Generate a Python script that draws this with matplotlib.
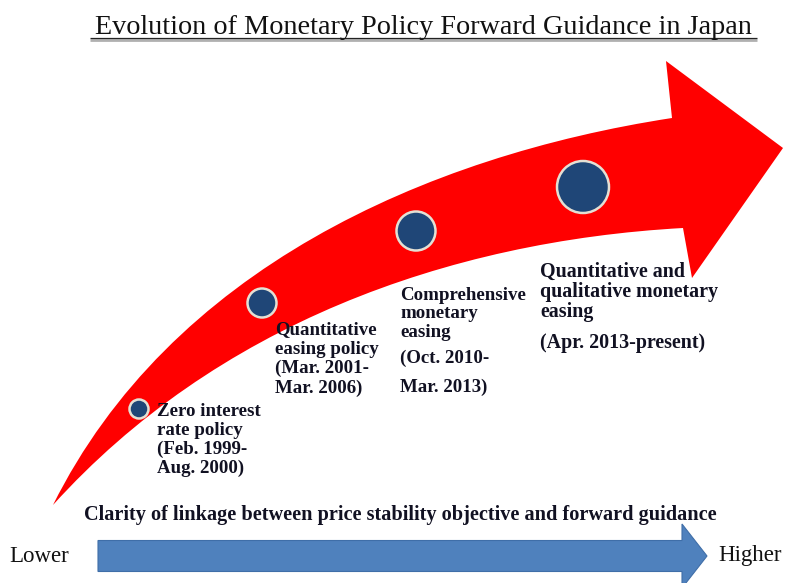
import numpy as np
import matplotlib.pyplot as plt
import matplotlib.patches as mpatches
from matplotlib.path import Path

# ---- content ----
title = "Evolution of Monetary Policy Forward Guidance in Japan"
axis_label = "Clarity of linkage between price stability objective and forward guidance"
low_label, high_label = "Lower", "Higher"

stage_names = [
    ["Zero interest", "rate policy"],
    ["Quantitative", "easing policy"],
    ["Comprehensive", "monetary", "easing"],
    ["Quantitative and", "qualitative monetary", "easing"],
]
stage_periods = [
    ["(Feb. 1999-", "Aug. 2000)"],
    ["(Mar. 2001-", "Mar. 2006)"],
    ["(Oct. 2010-", "Mar. 2013)"],
    ["(Apr. 2013-present)"],
]

# ---- layout (pixel coords, y down) ----
W, H = 790, 583
dot_xy = [(139, 409), (262, 303), (416, 231), (583, 187)]
dot_r = [9.5, 14.5, 19.5, 26]
name_xy = [(157, 403), (275, 321), (400, 287), (540, 262)]
name_pitch = [19, 19.5, 18.5, 20]
period_xy = [(157, 441), (275, 360), (400, 350), (540, 333)]
period_pitch = [19, 19.5, 29, 20]
label_size = [13.6, 13.6, 13.6, 14.4]

# sampled outline of the red arrow
upper_edge = [(53, 505), (63, 483), (130, 390), (197, 327), (250, 272), (317, 233),
              (383, 203), (450, 175), (540, 147), (640, 127), (672, 118)]
head = [(672, 118), (666, 61), (783, 148), (692, 278), (683, 228)]
lower_edge = [(683, 228), (640, 233), (540, 248), (450, 267), (400, 283), (350, 297),
              (290, 322), (230, 357), (163, 410), (97, 470), (53, 505)]


def bezier_fit(pts):
    # least-squares cubic bezier with fixed end points
    p = np.array(pts, dtype=float)
    d = np.r_[0, np.cumsum(np.hypot(*np.diff(p, axis=0).T))]
    t = d / d[-1]
    b0, b1, b2, b3 = (1 - t) ** 3, 3 * t * (1 - t) ** 2, 3 * t ** 2 * (1 - t), t ** 3
    rhs = p - np.outer(b0, p[0]) - np.outer(b3, p[-1])
    c, *_ = np.linalg.lstsq(np.c_[b1, b2], rhs, rcond=None)
    return [tuple(c[0]), tuple(c[1]), tuple(p[-1])]


up = bezier_fit(upper_edge)
lo = bezier_fit(lower_edge)
verts = [upper_edge[0]] + up + head[1:] + lo + [upper_edge[0]]
codes = ([Path.MOVETO] + [Path.CURVE4] * 3 + [Path.LINETO] * (len(head) - 1)
         + [Path.CURVE4] * 3 + [Path.CLOSEPOLY])

plt.rcParams['font.family'] = ['Liberation Serif', 'DejaVu Serif']

fig = plt.figure(figsize=(W / 100, H / 100), dpi=100)
ax = fig.add_axes([0, 0, 1, 1])
ax.set_xlim(0, W)
ax.set_ylim(H, 0)
ax.axis("off")

ax.add_patch(mpatches.PathPatch(Path(verts, codes), facecolor="#ff0000",
                                edgecolor="none", zorder=1))

for (x, y), r in zip(dot_xy, dot_r):
    ax.add_patch(mpatches.Circle((x, y), r, facecolor="#1f4677",
                                 edgecolor="#e4e0d4", linewidth=1.8, zorder=3))

for i in range(len(stage_names)):
    x, y = name_xy[i]
    for k, line in enumerate(stage_names[i]):
        ax.text(x, y + k * name_pitch[i], line, fontsize=label_size[i],
                fontweight="bold", color="#111122", va="top", ha="left")
    x, y = period_xy[i]
    for k, line in enumerate(stage_periods[i]):
        ax.text(x, y + k * period_pitch[i], line, fontsize=label_size[i],
                fontweight="bold", color="#111122", va="top", ha="left")

# title with underline
ax.text(423, 34, title, fontsize=20.3, ha="center", va="baseline", color="#111111")
ax.plot([90, 757], [40.3, 40.3], color="#b0b0b0", lw=2.0, solid_capstyle="butt")
ax.plot([90, 757], [38, 38], color="#222222", lw=0.9, solid_capstyle="butt")

# bottom axis arrow
ax.text(400, 515, axis_label, fontsize=14.6, fontweight="bold", ha="center",
        va="center", color="#111122")
ax.add_patch(mpatches.FancyArrow(98, 556, 609, 0, width=31, head_width=64,
                                 head_length=25, length_includes_head=True,
                                 facecolor="#4f81bd", edgecolor="#3f6ea8", lw=0.8))
ax.text(39, 556, low_label, fontsize=16.5, ha="center", va="center", color="#111111")
ax.text(750, 556, high_label, fontsize=16.5, ha="center", va="center", color="#111111")

fig.savefig("out.png", dpi=100)
